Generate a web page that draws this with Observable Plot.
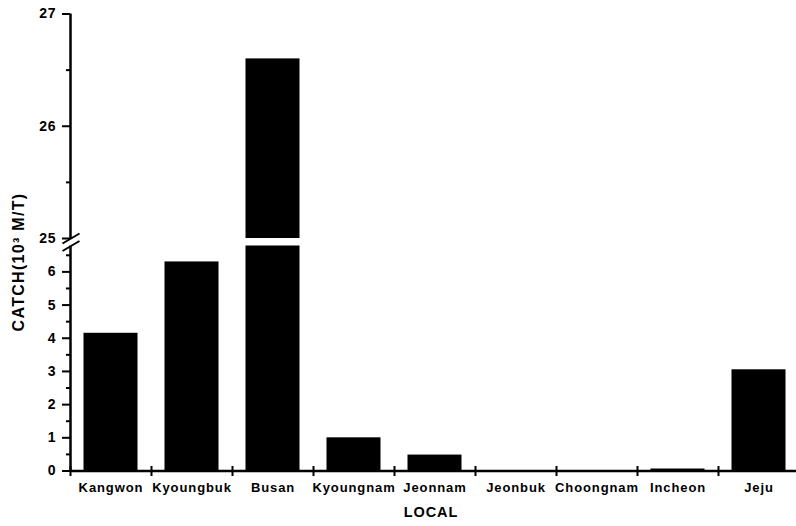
<!DOCTYPE html>
<html>
<head>
<meta charset="utf-8">
<script src="https://cdn.jsdelivr.net/npm/d3@7"></script>
<script src="https://cdn.jsdelivr.net/npm/@observablehq/plot@0.6"></script>
<style>
  html, body { margin: 0; padding: 0; background: #fff; overflow: hidden; }
  #chart { position: relative; width: 796px; height: 526px; }
  #chart svg { position: absolute; left: 0; top: 0; }
  #chart svg text { letter-spacing: 0.9px; }
  #ylabel {
    position: absolute; left: 19px; top: 262px;
    transform: translate(-50%, -50%) rotate(-90deg);
    white-space: nowrap;
    font: bold 16px "Liberation Sans", Arial, sans-serif;
    letter-spacing: 1.3px; color: #000;
  }
</style>
</head>
<body>
<div id="chart"><div id="ylabel">CATCH(10³ M/T)</div></div>
<script>
// Catch by region (10^3 M/T)
const regions = ["Kangwon", "Kyoungbuk", "Busan", "Kyoungnam", "Jeonnam", "Jeonbuk", "Choongnam", "Incheon", "Jeju"];
const catchValues = [4.15, 6.3, 26.6, 1.0, 0.48, 0, 0, 0.06, 3.05];

// Broken value axis: lower segment and upper segment
const lowerTicks = [0, 1, 2, 3, 4, 5, 6];
const lowerMinorTicks = [0.5, 1.5, 2.5, 3.5, 4.5, 5.5, 6.5];
const lowerMax = 6.78;
const upperTicks = [25, 26, 27];
const upperMinorTicks = [25.5, 26.5];
const upperDomain = [25, 27];

const data = regions.map((region, i) => ({region, i, value: catchValues[i]}));

// Short vertical stroke crossing the baseline, and the "//" axis-break stroke
const crossTick = { draw(ctx) { ctx.moveTo(0, -5); ctx.lineTo(0, 5); } };
const breakMark = { draw(ctx) { ctx.moveTo(-8, 5); ctx.lineTo(9, -5); } };

const common = {
  width: 796,
  height: 526,
  marginLeft: 70,
  marginRight: 0,
  style: {
    fontFamily: "'Liberation Sans', Arial, sans-serif",
    fontWeight: "bold",
    fontSize: "14px",
    color: "#000",
    background: "transparent",
    overflow: "visible"
  }
};

const bars = () => Plot.rectY(data, {
  x1: d => d.i, x2: d => d.i + 1, y: d => d.value,
  fill: "#000", insetLeft: 13.5, insetRight: 13.5, clip: true
});

const intFormat = d3.format("d");

const upper = Plot.plot({
  ...common,
  marginTop: 13.5,
  marginBottom: 288,
  x: {domain: [0, regions.length], range: [70, 799], axis: null},
  y: {domain: upperDomain},
  marks: [
    bars(),
    Plot.ruleX([0], {y1: upperDomain[0], y2: upperDomain[1], strokeWidth: 2.5}),
    Plot.axisY({ticks: upperMinorTicks, tickSize: 4, tickFormat: () => "", label: null, strokeWidth: 2}),
    Plot.axisY({ticks: upperTicks, tickSize: 8, tickPadding: 6, tickFormat: intFormat, label: null, strokeWidth: 2}),
    Plot.dot([upperDomain[0]], {x: () => 0, y: d => d, symbol: breakMark, stroke: "#000", fill: "none", strokeWidth: 2})
  ]
});

const lower = Plot.plot({
  ...common,
  marginTop: 245.5,
  marginBottom: 55.5,
  x: {domain: [0, regions.length], range: [70, 799]},
  y: {domain: [0, lowerMax]},
  marks: [
    bars(),
    Plot.ruleX([0], {y1: 0, y2: lowerMax, strokeWidth: 2.5}),
    Plot.ruleY([0], {x1: 0, x2: regions.length, strokeWidth: 2.5}),
    Plot.axisY({ticks: lowerMinorTicks, tickSize: 4, tickFormat: () => "", label: null, strokeWidth: 2}),
    Plot.axisY({ticks: lowerTicks, tickSize: 8, tickPadding: 6, tickFormat: intFormat, label: null, strokeWidth: 2}),
    Plot.dot(d3.range(regions.length + 1), {x: d => d, y: () => 0, symbol: crossTick, stroke: "#000", fill: "none", strokeWidth: 2}),
    Plot.axisX({
      ticks: regions.map((_, i) => i + 0.5),
      tickFormat: t => regions[Math.floor(t)],
      tickSize: 0, tickPadding: 12, fontSize: 13, label: null
    }),
    Plot.text(["LOCAL"], {frameAnchor: "bottom", dy: 45.5, dx: -2.5, fontSize: 14.5}),
    Plot.dot([lowerMax], {x: () => 0, y: d => d, symbol: breakMark, stroke: "#000", fill: "none", strokeWidth: 2})
  ]
});

const chart = document.getElementById("chart");
chart.appendChild(lower);
chart.appendChild(upper);
</script>
</body>
</html>
